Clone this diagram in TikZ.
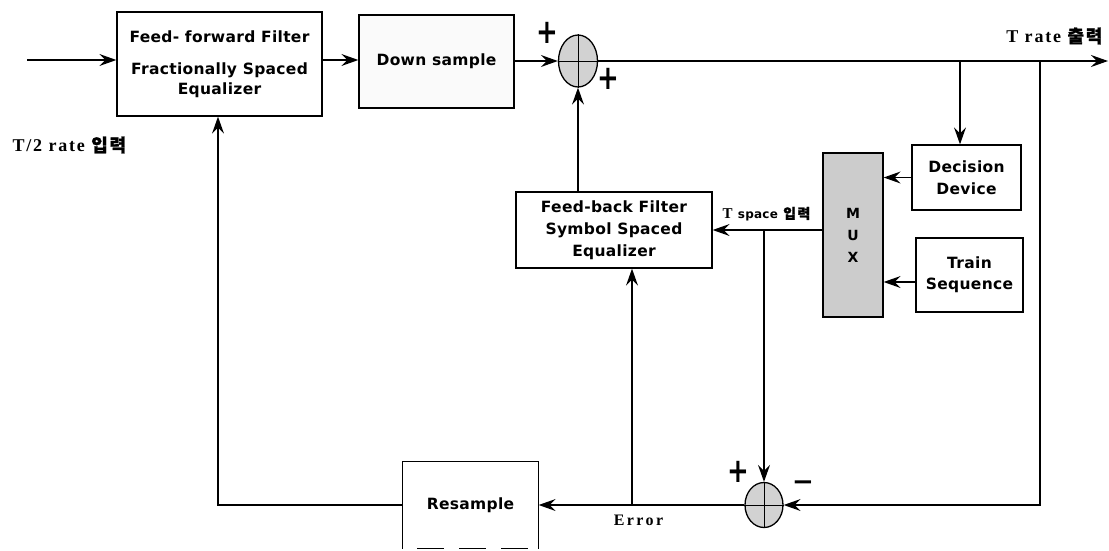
\documentclass[tikz,border=0pt]{standalone}
\usepackage{fontspec}
\usetikzlibrary{arrows.meta,shapes.geometric}
\newfontfamily\boxfont[LetterSpace=2]{DejaVu Sans}
\newfontfamily\sgnfont{DejaVu Sans}
\newfontfamily\labfont[LetterSpace=10]{Liberation Serif}
\newfontfamily\errfont[LetterSpace=15]{Liberation Serif}
\newfontfamily\krfont[LetterSpace=10,FakeBold=1]{Noto Sans CJK KR}
\begin{document}
\begin{tikzpicture}[x=1pt,y=-1pt,
  line width=1.3pt,
  arr/.style={-{Stealth[length=17pt,width=12pt,inset=6pt]}},
  blk/.style={draw, rectangle, inner sep=0pt, align=center, font=\boxfont\bfseries\fontsize{15.5}{20}\selectfont},
  sumnode/.style={draw, ellipse, fill=gray!35, inner sep=0pt},
  lab/.style={font=\labfont\bfseries\fontsize{18}{19}\selectfont, inner sep=0pt},
  sgn/.style={font=\sgnfont\bfseries\fontsize{26}{26}\selectfont, inner sep=0pt}]
\useasboundingbox (0,0) rectangle (1109,550);

\node[blk, minimum width=205pt, minimum height=104pt] (ff) at (219.5,64) {Feed- forward Filter\\[12pt]Fractionally Spaced\\Equalizer};
\node[blk, fill=gray!4, minimum width=155pt, minimum height=93pt] (ds) at (436.5,61.5) {Down sample};
\node[sumnode, minimum width=39pt, minimum height=52pt] (s1) at (578,61) {};
\node[blk, minimum width=109pt, minimum height=65pt, font=\boxfont\bfseries\fontsize{15.5}{22}\selectfont] (dd) at (966.5,177.5) {Decision\\Device};
\node[blk, minimum width=107pt, minimum height=74pt, font=\boxfont\bfseries\fontsize{15.5}{21}\selectfont] (ts) at (969.5,275) {Train\\Sequence};
\node[blk, fill=gray!40, minimum width=60pt, minimum height=164pt, font=\boxfont\bfseries\fontsize{14}{22}\selectfont] (mux) at (853,235) {M\\U\\X};
\node[blk, minimum width=196pt, minimum height=76pt, font=\boxfont\bfseries\fontsize{15.5}{22}\selectfont] (fb) at (614,230) {Feed-back Filter\\Symbol Spaced\\Equalizer};
\node[blk, draw=none, minimum width=135pt, minimum height=86pt] (rs) at (470.5,505) {Resample};
\draw (rs.south west) -- (rs.north west) -- (rs.north east) -- (rs.south east);
\draw[dash pattern=on 27pt off 15pt, dash phase=27pt] (rs.south west) -- (rs.south east);
\node[sumnode, minimum width=38pt, minimum height=45pt] (s2) at (764,505) {};

\draw[line width=1pt] (s1.north) -- (s1.south) (s1.west) -- (s1.east);
\draw[line width=1pt] (s2.north) -- (s2.south) (s2.west) -- (s2.east);

\coordinate (in) at (27,60);
\coordinate (out) at (1108,61);
\coordinate (b1) at (960,61);
\coordinate (b3) at (1040,61);
\coordinate (b2) at (764,230);
\coordinate (b4) at (632,505);
\coordinate (c1) at (218,505);
\coordinate (tsy) at (0,282);

\draw[arr] (in) -- (in -| ff.west);
\draw[arr] (ff.east |- in) -- (ds.west |- in);
\draw[arr] (ds.east |- s1) -- (s1.west);
\draw[arr] (s1.east) -- (out);
\draw[arr] (b1) -- (b1 |- dd.north);
\draw[arr] (b3) |- (s2.east);
\draw[arr] (dd.west) -- (mux.east |- dd.west);
\draw[arr] (ts.west |- tsy) -- (mux.east |- tsy);
\draw[arr] (mux.west |- fb.east) -- (fb.east);
\draw[arr] (b2) -- (s2.north);
\draw[arr] (s2.west) -- (rs.east);
\draw[arr] (b4) -- (b4 |- fb.south);
\draw[arr] (rs.west) -- (c1) -- (c1 |- ff.south);
\draw[arr] (s1.south |- fb.north) -- (s1.south);

\node[lab, anchor=east] (trate) at (1103,36) {T rate {\krfont\fontsize{18}{19}\selectfont 출력}};
\node[lab, anchor=west] (t2) at (12,145) {T/2 rate {\krfont\fontsize{18}{19}\selectfont 입력}};
\node[lab, anchor=west, font=\labfont\bfseries\fontsize{15}{17}\selectfont] (tsp) at (722,214) {T {\boxfont\bfseries\fontsize{12}{14}\selectfont space} {\krfont\fontsize{14}{15}\selectfont 입력}};
\node[lab, font=\errfont\bfseries\fontsize{16}{17}\selectfont] (err) at (638.5,520) {Error};

\node[sgn] (p1) at (547,33) {\scalebox{1}[1.3]{+}};
\node[sgn] (p2) at (608,79) {\scalebox{1}[1.3]{+}};
\node[sgn] (p3) at (738,472) {\scalebox{1}[1.3]{+}};
\node[sgn] (m3) at (803,486) {−};
\end{tikzpicture}
\end{document}
